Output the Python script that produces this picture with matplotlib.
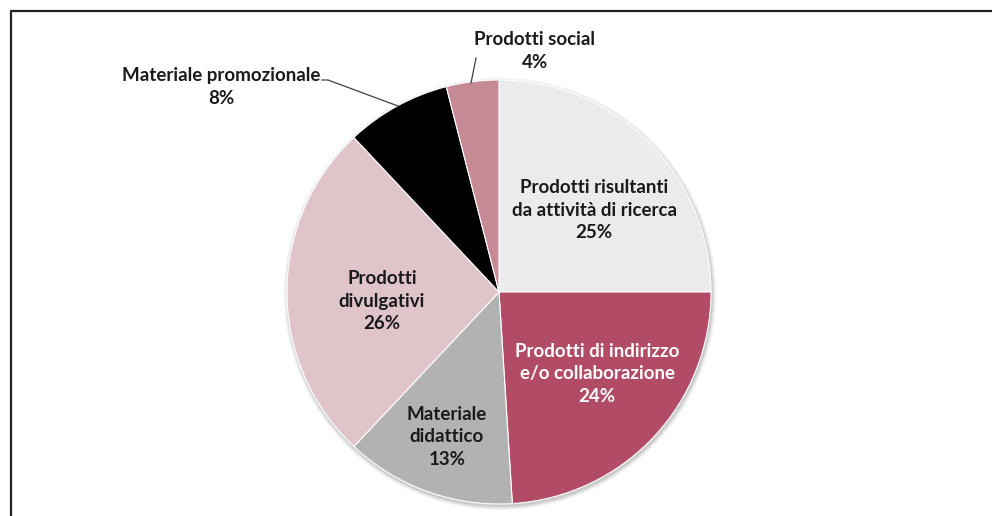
import matplotlib
matplotlib.use('Agg')
import matplotlib.pyplot as plt
from matplotlib.patches import Circle

# Dati
categorie = ['Prodotti risultanti\nda attività di ricerca',
             'Prodotti di indirizzo\ne/o collaborazione',
             'Materiale\ndidattico',
             'Prodotti\ndivulgativi',
             'Materiale promozionale',
             'Prodotti social']
valori = [25, 24, 13, 26, 8, 4]
colori = ['#EBEBEB', '#B24B65', '#B2B2B2', '#DFC4C9', '#000000', '#C68A94']
colori_testo = ['#1a1a1a', 'white', '#1a1a1a', '#1a1a1a', '#1a1a1a', '#1a1a1a']

# posizioni delle etichette (pixel, origine in alto a sinistra)
pos_etichette = [(594, 210), (597, 374), (447, 437), (382, 301), (221, 87), (535, 51)]

W, H = 992, 516
fig = plt.figure(figsize=(W / 100, H / 100), dpi=100)
ax = fig.add_axes([0, 0, 1, 1])

cx, cy, r = 499, H - 292, 212

# ombra leggera
for k, a in enumerate([0.05, 0.07, 0.09]):
    ax.add_patch(Circle((cx + 1, cy - 2), r + 4 - k * 1.5, color='black', alpha=a, lw=0, zorder=1))

ax.pie(valori, colors=colori, startangle=90, counterclock=False,
       center=(cx, cy), radius=r, frame=True,
       wedgeprops=dict(edgecolor='white', linewidth=0.8, zorder=2))
ax.set_xlim(0, W)
ax.set_ylim(0, H)
ax.set_aspect('equal')
ax.axis('off')

font = ['Lato', 'DejaVu Sans']
for cat, v, (x, y), c in zip(categorie, valori, pos_etichette, colori_testo):
    ax.text(x, H - y, f'{cat}\n{v}%', ha='center', va='center', color=c,
            fontsize=13.5, fontweight='bold', family=font, linespacing=1.36, zorder=5)

# linee di richiamo
ax.plot([322, 328, 398], [H - 80, H - 80, H - 106], color='#404040', lw=0.9, zorder=4)
ax.plot([476, 471], [H - 58, H - 83], color='#404040', lw=0.9, zorder=4)

# cornice
ax.plot([10.5, 10.5, W], [0, H - 10.5, H - 10.5], color='#222222', lw=1.6, zorder=6)

fig.savefig('out.png', dpi=100)
